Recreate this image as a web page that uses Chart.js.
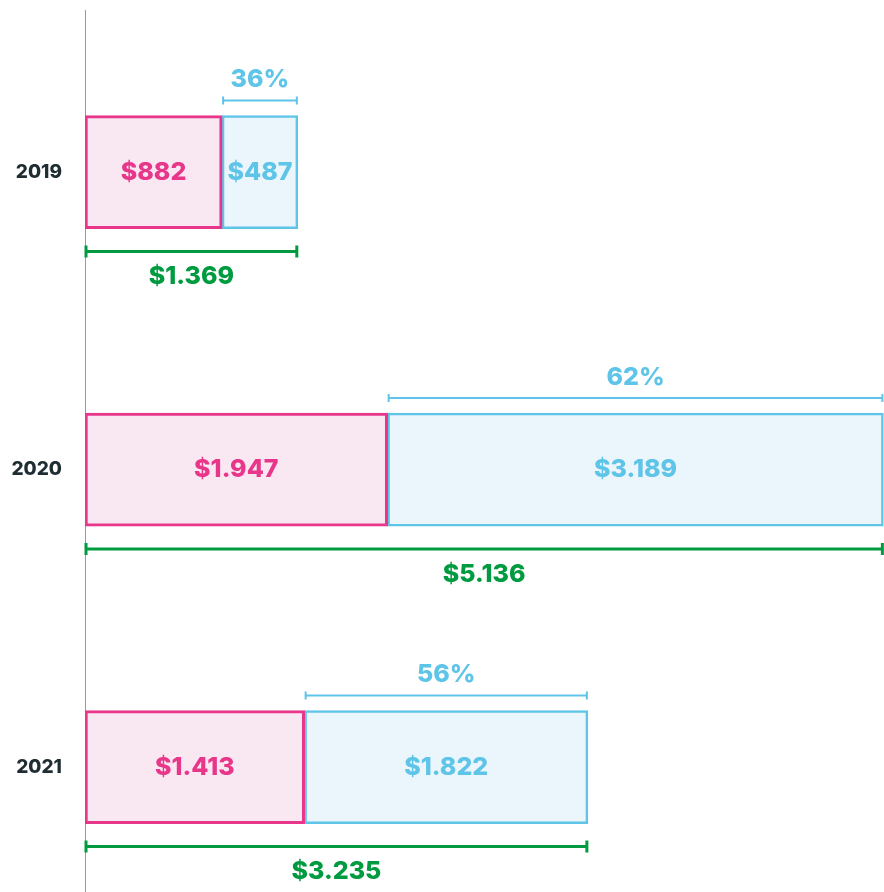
<!DOCTYPE html>
<html>
<head>
<meta charset="utf-8">
<script src="https://cdn.jsdelivr.net/npm/chart.js@4"></script>
<style>
html,body{margin:0;padding:0;background:#fff;overflow:hidden;}
#wrap{width:884px;height:892px;position:relative;}
</style>
</head>
<body>
<div id="wrap"><canvas id="c" width="884" height="892"></canvas></div>
<script>
const years = ["2019", "2020", "2021"];
const pinkValues = [882, 1947, 1413];
const blueValues = [487, 3189, 1822];
const percentLabels = ["36%", "62%", "56%"];

const PINK = '#E8378A', PINK_FILL = '#F9E7F2';
const BLUE = '#5EC4E8', BLUE_FILL = '#EAF5FC';
const GREEN = '#009B40';
const FONT = 'Inter, "Noto Sans", sans-serif';

function money(v){ return '$' + String(v).replace(/\B(?=(\d{3})+(?!\d))/g, '.'); }

const annot = {
  id: 'annot',
  afterDatasetsDraw(chart){
    const ctx = chart.ctx;
    const m0 = chart.getDatasetMeta(0), m1 = chart.getDatasetMeta(1);
    ctx.save();
    ctx.textAlign = 'center';
    ctx.textBaseline = 'middle';
    years.forEach((y, i) => {
      const p = m0.data[i], b = m1.data[i];
      const top = p.y - p.height/2, bot = p.y + p.height/2;
      ctx.font = '800 25px ' + FONT;
      ctx.fillStyle = PINK;
      ctx.fillText(money(pinkValues[i]), (p.base + p.x)/2, p.y);
      ctx.fillStyle = BLUE;
      ctx.fillText(money(blueValues[i]), (b.base + b.x)/2, b.y);
      // percent bracket
      ctx.strokeStyle = BLUE; ctx.lineWidth = 2;
      const ly = top - 15;
      ctx.beginPath();
      ctx.moveTo(b.base + 1, ly); ctx.lineTo(b.x - 1, ly);
      ctx.moveTo(b.base + 1, ly - 4); ctx.lineTo(b.base + 1, ly + 4);
      ctx.moveTo(b.x - 1, ly - 4); ctx.lineTo(b.x - 1, ly + 4);
      ctx.stroke();
      ctx.fillStyle = BLUE;
      ctx.fillText(percentLabels[i], (b.base + b.x)/2, top - 36);
      // total bracket
      const total = pinkValues[i] + blueValues[i];
      ctx.strokeStyle = GREEN; ctx.lineWidth = 3;
      const gy = bot + 23;
      const x0 = p.base + 1, x1 = b.x - 1;
      ctx.beginPath();
      ctx.moveTo(x0, gy); ctx.lineTo(x1, gy);
      ctx.moveTo(x0, gy - 6); ctx.lineTo(x0, gy + 6);
      ctx.moveTo(x1, gy - 6); ctx.lineTo(x1, gy + 6);
      ctx.stroke();
      ctx.fillStyle = GREEN;
      ctx.fillText(money(total), (x0 + x1)/2, bot + 48);
    });
    ctx.restore();
  }
};

new Chart(document.getElementById('c'), {
  type: 'bar',
  data: {
    datasets: [
      { label: 'pink', data: pinkValues.map((v, i) => ({x: v, y: i})),
        backgroundColor: PINK_FILL, borderColor: PINK, borderWidth: 3, borderSkipped: false, barThickness: 113 },
      { label: 'blue', data: blueValues.map((v, i) => ({x: v, y: i})),
        backgroundColor: BLUE_FILL, borderColor: BLUE, borderWidth: 2.5, borderSkipped: false, barThickness: 113 }
    ]
  },
  options: {
    indexAxis: 'y',
    responsive: false,
    animation: false,
    layout: { padding: { top: 10, right: 0, bottom: 0, left: 0 } },
    plugins: { legend: { display: false }, tooltip: { enabled: false } },
    scales: {
      x: { type: 'linear', stacked: true, min: 0, max: 5140, display: false },
      y: {
        type: 'linear', stacked: true, reverse: true, offset: false, min: -0.545, max: 2.42,
        grid: { display: false },
        border: { display: true, color: '#9a9a9a', width: 1 },
        afterBuildTicks: (s) => { s.ticks = years.map((_, i) => ({value: i})); },
        afterFit: (s) => { s.width = 85; s.paddingTop = 0; s.paddingBottom = 0; },
        ticks: {
          callback: (v) => years[v],
          color: '#1f2d33',
          font: { family: FONT, size: 19, weight: '800' },
          padding: 15
        }
      }
    }
  },
  plugins: [annot]
});
</script>
</body>
</html>
